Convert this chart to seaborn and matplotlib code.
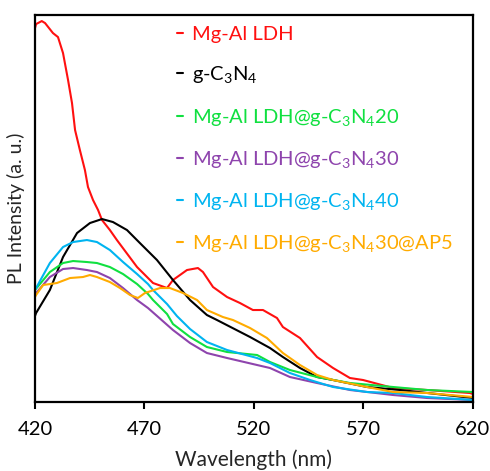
import numpy as np
import pandas as pd
import matplotlib
matplotlib.use("Agg")
import matplotlib.pyplot as plt
import seaborn as sns

# Photoluminescence spectra (wavelength in nm, intensity in arbitrary units)
wl_ldh = [420, 420.5, 423.1, 424.6, 428.2, 430.5, 432.8, 435.1, 436.9, 438.3, 440.5, 442.8,
          444.2, 446.5, 448.8, 450.6, 454.2, 457.4, 466.6, 473.9, 480.3, 483.0, 489.4, 494.4,
          496.7, 501.3, 507.7, 513.6, 519.5, 524.1, 530.5, 533.2, 541.0, 548.8, 556.1, 563.8,
          569.8, 583.5, 599.0, 618.6, 620]
pl_ldh = [374, 378, 381, 379, 369, 365, 349, 322, 299, 272, 252, 232,
          215, 202, 192, 182, 172, 162, 135, 119, 114, 122, 132, 134,
          130, 115, 105, 99, 92, 92, 84, 75, 64, 45, 34, 24,
          22, 14, 12, 9, 8]

wl_gcn = [420, 420.5, 426.8, 432.8, 439.2, 445.1, 450.6, 455.6, 462.0, 467.9, 475.7, 483.0,
          490.8, 498.5, 503.1, 518.2, 527.3, 533.2, 541.0, 548.8, 556.1, 571.6, 586.7, 620]
pl_gcn = [86, 89, 112, 145, 169, 179, 183, 180, 172, 159, 142, 122,
          102, 87, 82, 65, 54, 45, 34, 25, 22, 15, 12, 4]

wl_c20 = [420, 426.8, 432.8, 437.4, 443.7, 448.3, 454.2, 460.2, 466.6, 471.6, 473.9, 480.3,
          483.0, 490.8, 498.5, 507.7, 521.4, 527.3, 536.4, 548.8, 563.8, 583.5, 599.0, 620]
pl_c20 = [112, 130, 139, 141, 140, 139, 135, 128, 118, 108, 102, 88,
          78, 65, 55, 50, 47, 40, 32, 25, 19, 15, 12, 10]

wl_c30 = [420, 420.5, 426.8, 432.8, 437.4, 443.7, 448.3, 454.2, 460.2, 466.6, 471.6, 483.0,
          490.8, 498.5, 507.7, 521.4, 527.3, 536.4, 548.8, 563.8, 583.5, 599.0, 620]
pl_c30 = [107, 109, 125, 133, 134, 132, 130, 124, 114, 102, 94, 72,
          59, 49, 44, 37, 34, 25, 19, 12, 7, 4, 2]

wl_c40 = [420, 420.5, 426.8, 432.8, 437.4, 443.7, 448.3, 454.2, 460.2, 466.6, 471.6, 473.9,
          480.3, 484.8, 490.8, 498.5, 507.7, 521.4, 527.3, 536.4, 545.6, 556.1, 571.6, 583.5,
          599.0, 620]
pl_c40 = [112, 114, 139, 155, 160, 162, 160, 152, 140, 128, 118, 112,
          98, 86, 73, 60, 52, 44, 39, 29, 22, 15, 10, 9,
          5, 2]

wl_ap5 = [420, 420.5, 423.7, 430.0, 436.0, 441.9, 445.1, 448.3, 454.2, 458.8, 463.4, 467.0,
          470.2, 477.1, 481.6, 487.6, 494.0, 498.5, 505.8, 510.4, 518.2, 525.9, 533.2, 541.0,
          548.8, 556.1, 571.6, 583.5, 599.0, 620]
pl_ap5 = [105, 107, 117, 119, 124, 125, 127, 125, 120, 114, 107, 104,
          109, 114, 114, 109, 102, 92, 85, 82, 74, 64, 49, 37,
          27, 22, 15, 10, 9, 5]

samples = ["Mg-Al LDH", "g-C$_3$N$_4$", "Mg-Al LDH@g-C$_3$N$_4$20",
           "Mg-Al LDH@g-C$_3$N$_4$30", "Mg-Al LDH@g-C$_3$N$_4$40",
           "Mg-Al LDH@g-C$_3$N$_4$30@AP5"]
colors = ["#ff1010", "#000000", "#10e040", "#8e44ad", "#00b4f0", "#ffab00"]
x_ticks = [420, 470, 520, 570, 620]

series = [(wl_ldh, pl_ldh), (wl_gcn, pl_gcn), (wl_c20, pl_c20),
          (wl_c30, pl_c30), (wl_c40, pl_c40), (wl_ap5, pl_ap5)]
df = pd.concat(
    [pd.DataFrame({"Wavelength": w, "PL": p, "Sample": s})
     for (w, p), s in zip(series, samples)],
    ignore_index=True,
)

sns.set_style("white")
plt.rcParams["font.family"] = ["Lato", "DejaVu Sans"]
plt.rcParams["mathtext.default"] = "regular"

fig = plt.figure(figsize=(4.9, 4.71), dpi=100)
ax = fig.add_axes([0.0714, 0.1465, 0.8939, 0.8215])

sns.lineplot(data=df, x="Wavelength", y="PL", hue="Sample", hue_order=samples,
             palette=colors, estimator=None, sort=False, linewidth=1.5, ax=ax)

ax.set_xlim(420, 620)
ax.set_ylim(0, 387)
ax.set_xticks(x_ticks)
ax.set_yticks([])
ax.tick_params(axis="x", direction="out", length=5, width=1.5, labelsize=14.5,
               bottom=True, pad=9, colors="black")
for sp in ax.spines.values():
    sp.set_color("black")
    sp.set_linewidth(1.6)

ax.set_xlabel("Wavelength (nm)", fontsize=15, labelpad=8)
ax.set_ylabel("PL Intensity (a. u.)", fontsize=14, labelpad=7)

handles, labels = ax.get_legend_handles_labels()
leg = ax.legend(handles, labels, loc="upper left", bbox_to_anchor=(0.283, 1.018),
                frameon=False, handlelength=0.3, handletextpad=0.45,
                labelspacing=1.05, fontsize=14.5, labelcolor="linecolor")

fig.savefig("out.png", dpi=100)
